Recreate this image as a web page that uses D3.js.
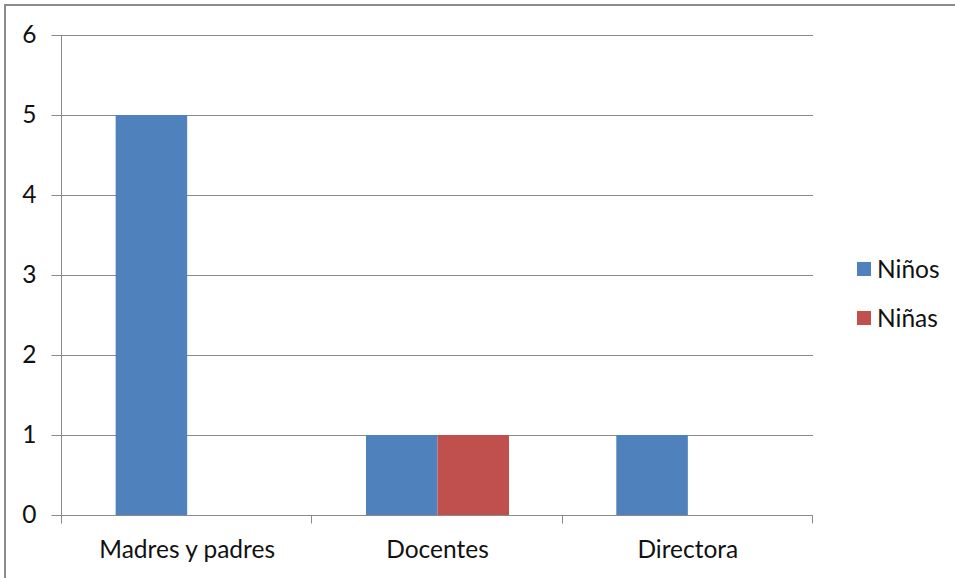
<!DOCTYPE html>
<html><head><meta charset="utf-8">
<script src="https://cdn.jsdelivr.net/npm/d3@7"></script>
<style>body{margin:0;background:#fff}svg{display:block}</style>
</head><body>
<script>
const categories = ["Madres y padres", "Docentes", "Directora"];
const seriesNames = ["Niños", "Niñas"];
const ninos = [5, 1, 1];
const ninas = [0, 1, 0];
const yTicks = [0, 1, 2, 3, 4, 5, 6];
const colors = ["#4F81BD", "#C0504D"];

(function () {
const W = 955, H = 578;
const svg = d3.select("body").append("svg").attr("width", W).attr("height", H);
svg.append("rect").attr("width", W).attr("height", H).attr("fill", "#fff");
svg.append("rect").attr("x", 5).attr("y", 5).attr("width", W + 10).attr("height", H + 10)
  .attr("fill", "none").attr("stroke", "#8c8c8c").attr("stroke-width", 2);

const mL = 62, mR = 813, mT = 35, mB = 515;
const font = "Lato, 'Open Sans', sans-serif";
const fs = 24.5;
const x = d3.scaleBand().domain(categories).range([mL, mR]).paddingInner(0).paddingOuter(0);
const y = d3.scaleLinear().domain([0, 6]).range([mB, mT]);
const gap = 1.5;
const barW = x.bandwidth() / (2 + gap);
const sub = d3.scaleBand().domain(seriesNames).range([0, barW * 2]);

// gridlines
svg.append("g").selectAll("line").data(yTicks.filter(d => d > 0)).join("line")
  .attr("x1", mL).attr("x2", mR).attr("y1", d => Math.round(y(d)) + 0.5).attr("y2", d => Math.round(y(d)) + 0.5)
  .attr("stroke", "#8a8a8a").attr("stroke-width", 1);

// bars
const data = categories.map((c, i) => ({c, vals: [ninos[i], ninas[i]]}));
const g = svg.append("g");
data.forEach(d => {
  d.vals.forEach((v, j) => {
    if (v <= 0) return;
    g.append("rect")
      .attr("x", x(d.c) + barW * gap / 2 + sub(seriesNames[j]))
      .attr("y", y(v)).attr("width", barW).attr("height", y(0) - y(v))
      .attr("fill", colors[j]);
  });
});

// y axis
const ya = svg.append("g").attr("transform", `translate(${mL - 0.5},0)`)
  .call(d3.axisLeft(y).tickValues(yTicks).tickSize(10).tickPadding(15).tickFormat(d3.format("d")));
ya.select(".domain").attr("stroke", "#8a8a8a").attr("d", `M0,${mT}V${mB}`);
ya.selectAll(".tick line").attr("stroke", "#8a8a8a");
ya.selectAll(".tick text").attr("font-family", font).attr("font-size", fs).attr("fill", "#111");

// x axis
const xa = svg.append("g").attr("transform", `translate(0,${mB + 0.5})`);
xa.append("line").attr("x1", mL - 10).attr("x2", mR).attr("stroke", "#8a8a8a");
const bounds = categories.map(c => x(c)).concat([mR]);
xa.selectAll("line.t").data(bounds).join("line").attr("class", "t")
  .attr("x1", d => Math.round(d) - 0.5).attr("x2", d => Math.round(d) - 0.5).attr("y1", 0).attr("y2", 8)
  .attr("stroke", "#8a8a8a");
xa.selectAll("text").data(categories).join("text")
  .attr("x", d => x(d) + x.bandwidth() / 2).attr("y", 42)
  .attr("text-anchor", "middle").attr("font-family", font).attr("font-size", fs).attr("fill", "#111")
  .text(d => d);

// legend
const lg = svg.append("g");
seriesNames.forEach((s, i) => {
  lg.append("rect").attr("x", 857).attr("y", 262 + i * 49).attr("width", 14).attr("height", 14).attr("fill", colors[i]);
  lg.append("text").attr("x", 877).attr("y", 269 + i * 49).attr("dy", "0.35em")
    .attr("font-family", font).attr("font-size", fs).attr("fill", "#111").text(s);
});
})();
</script>
</body></html>
